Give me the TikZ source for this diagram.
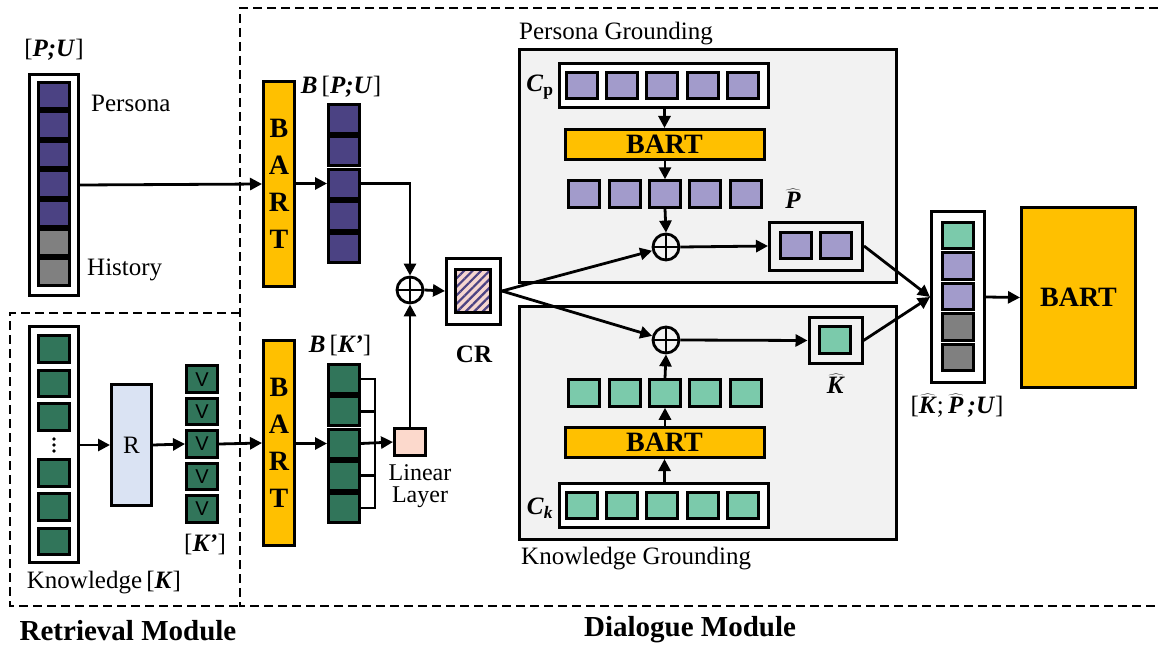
\documentclass[tikz,border=0pt]{standalone}
\usepackage{fontspec}
\setmainfont{Liberation Serif}
\newfontfamily\sansfont{Liberation Sans}
\usetikzlibrary{arrows.meta,patterns.meta}

\definecolor{bartgold}{HTML}{FFC000}
\definecolor{roxo}{HTML}{4B4283}
\definecolor{roxoclaro}{HTML}{A29BCB}
\definecolor{verde}{HTML}{31755A}
\definecolor{verdeclaro}{HTML}{7BCAAB}
\definecolor{cinza}{HTML}{808080}
\definecolor{fundo}{HTML}{F2F2F2}
\definecolor{azulr}{HTML}{DAE3F3}
\definecolor{salmao}{HTML}{FCD9CC}
\definecolor{rosa}{HTML}{F6D6D0}

\begin{document}
\begin{tikzpicture}[x=1pt, y=-1pt,
        every node/.style={font=\fontsize{25}{28}\selectfont, inner sep=0pt},
        cell/.style={draw, line width=3pt, minimum width=31pt, minimum height=26.5pt},
        holder/.style={draw, line width=3pt, fill=white},
        bartbox/.style={draw, line width=3pt, fill=bartgold, font=\fontsize{28}{37}\selectfont\bfseries, align=center},
        sumnode/.style={draw, circle, line width=2.8pt, minimum size=26pt,
            path picture={\draw[line width=2.8pt] (path picture bounding box.north) -- (path picture bounding box.south)
                (path picture bounding box.west) -- (path picture bounding box.east);}},
        arrowline/.style={line width=2.8pt, -{Triangle[length=12pt,width=12pt]}},
        module/.style={line width=2pt, dash pattern=on 9pt off 5pt}]
        \useasboundingbox (0,0) rectangle (1158,650);

        %modulos
        \draw[module] (240,313) -- (10,313) -- (10,606) -- (240,606);
        \draw[module] (1158,8) -- (240,8) -- (240,606) -- (1158,606);
        \node[font=\fontsize{29}{32}\selectfont\bfseries] (retlabel) at (128,631) {Retrieval Module};
        \node[font=\fontsize{29}{32}\selectfont\bfseries] (dialabel) at (690,630) {Dialogue Module};

        %entrada [P;U]
        \node[holder, minimum width=49pt, minimum height=221pt] (pubox) at (54,185) {};
        \node[cell, fill=roxo] (pu1) at (54,95.7) {};
        \node[cell, fill=roxo] (pu2) at (54,125.1) {};
        \node[cell, fill=roxo] (pu3) at (54,154.5) {};
        \node[cell, fill=roxo] (pu4) at (54,183.9) {};
        \node[cell, fill=roxo] (pu5) at (54,213.3) {};
        \node[cell, fill=cinza] (pu6) at (54,242.7) {};
        \node[cell, fill=cinza] (pu7) at (54,272.1) {};
        \node (pulabel) at (54,50) {[\textbf{\textit{P;U}}]};
        \node[anchor=west] (persona) at (91,103) {Persona};
        \node[anchor=west] (history) at (87,270) {History};

        %entrada conhecimento
        \node[holder, minimum width=49pt, minimum height=236pt] (kbox) at (54,444.5) {};
        \node[cell, fill=verde] (k1) at (54,349) {};
        \node[cell, fill=verde] (k2) at (54,383.5) {};
        \node[cell, fill=verde] (k3) at (54,417) {};
        \fill (54,439) circle (1.8) (54,445) circle (1.8) (54,451) circle (1.8);
        \node[cell, fill=verde] (k4) at (54,473) {};
        \node[cell, fill=verde] (k5) at (54,507) {};
        \node[cell, fill=verde] (k6) at (54,541.5) {};
        \node (klabel) at (104,583) {Knowledge\,[\textbf{\textit{K}}]};

        \node[draw, line width=3pt, fill=azulr, minimum width=40pt, minimum height=121pt] (ret) at (131.5,445) {R};

        \node[cell, fill=verde, font=\sansfont\fontsize{20}{20}\selectfont] (kp1) at (202,379.2) {V};
        \node[cell, fill=verde, font=\sansfont\fontsize{20}{20}\selectfont] (kp2) at (202,411.6) {V};
        \node[cell, fill=verde, font=\sansfont\fontsize{20}{20}\selectfont] (kp3) at (202,444) {V};
        \node[cell, fill=verde, font=\sansfont\fontsize{20}{20}\selectfont] (kp4) at (202,476.4) {V};
        \node[cell, fill=verde, font=\sansfont\fontsize{20}{20}\selectfont] (kp5) at (202,508.8) {V};
        \node (kplabel) at (205,544) {[\textbf{\textit{K'}}]};

        \draw[arrowline] (kbox.east |- ret.west) -- (ret.west);
        \draw[arrowline] (ret.east) -- (kp3.west);

        %encoders BART
        \node[bartbox, minimum width=31pt, minimum height=205pt] (bart1) at (279,184) {B\\A\\R\\T};
        \node[bartbox, minimum width=31pt, minimum height=205pt] (bart2) at (279,443) {B\\A\\R\\T};
        \draw[arrowline] (pubox.east) -- (bart1.west);
        \draw[arrowline] (kp3.east) -- (bart2.west);

        \node[cell, fill=roxo, minimum height=29pt] (bp1) at (344,119.1) {};
        \node[cell, fill=roxo, minimum height=29pt] (bp2) at (344,151.3) {};
        \node[cell, fill=roxo, minimum height=29pt] (bp3) at (344,183.5) {};
        \node[cell, fill=roxo, minimum height=29pt] (bp4) at (344,215.7) {};
        \node[cell, fill=roxo, minimum height=29pt] (bp5) at (344,247.9) {};
        \node (bplabel) at (341,87) {\textbf{\textit{B}}\,[\textbf{\textit{P;U}}]};

        \node[cell, fill=verde, minimum height=29pt] (bk1) at (344,379.1) {};
        \node[cell, fill=verde, minimum height=29pt] (bk2) at (344,411.3) {};
        \node[cell, fill=verde, minimum height=29pt] (bk3) at (344,443.5) {};
        \node[cell, fill=verde, minimum height=29pt] (bk4) at (344,475.7) {};
        \node[cell, fill=verde, minimum height=29pt] (bk5) at (344,507.9) {};
        \node (bklabel) at (340,345) {\textbf{\textit{B}}\,[\textbf{\textit{K'}}]};

        \draw[arrowline] (bart1.east |- bp3.west) -- (bp3.west);
        \draw[arrowline] (bart2.east |- bk3.west) -- (bk3.west);

        %camada linear
        \draw[line width=2.5pt] (bk1.east) -- ++(14,0) |- (bk5.east);
        \draw[line width=2.5pt] (bk2.east) -- ++(14,0);
        \draw[line width=2.5pt] (bk4.east) -- ++(14,0);
        \node[draw, line width=3pt, fill=salmao, minimum width=31pt, minimum height=27pt] (lin) at (410,442) {};
        \node[align=center, font=\fontsize{24}{22}\selectfont] (linlabel) at (420,486) {Linear\\Layer};
        \draw[arrowline] (bk3.east) -- (lin.west);

        %soma e CR
        \node[sumnode] (plus1) at (410,290) {};
        \draw[arrowline] (bp3.east) -| (plus1.north);
        \draw[arrowline] (lin.north) -- (plus1.south);
        \node[holder, minimum width=54pt, minimum height=66pt] (crout) at (473.5,291) {};
        \node[draw, line width=3pt, minimum width=35pt, minimum height=43pt, preaction={fill=rosa},
            pattern={Lines[angle=45,distance=6pt,line width=2.2pt]}, pattern color=roxo] (crin) at (473,290.5) {};
        \node[font=\fontsize{25}{28}\selectfont\bfseries] (crlabel) at (474,354) {CR};
        \draw[arrowline] (plus1.east) -- (crout.west);

        %persona grounding
        \node[draw, line width=3pt, fill=fundo, minimum width=377pt, minimum height=233pt] (pg) at (708,166) {};
        \node[anchor=south west] (pglabel) at (519,45) {Persona Grounding};
        \node[holder, minimum width=209pt, minimum height=44pt] (cp) at (664,85.5) {};
        \node[cell, fill=roxoclaro] (cp1) at (582,85.5) {};
        \node[cell, fill=roxoclaro] (cp2) at (622,85.5) {};
        \node[cell, fill=roxoclaro] (cp3) at (662,85.5) {};
        \node[cell, fill=roxoclaro] (cp4) at (703,85.5) {};
        \node[cell, fill=roxoclaro] (cp5) at (743,85.5) {};
        \node (cplabel) at (540,87) {\textbf{\textit{C}}\textsubscript{\textbf{p}}};
        \node[bartbox, minimum width=199pt, minimum height=30pt] (bartp) at (664.5,144.5) {BART};
        \node[cell, fill=roxoclaro] (op1) at (584,194) {};
        \node[cell, fill=roxoclaro] (op2) at (625,194) {};
        \node[cell, fill=roxoclaro] (op3) at (665,194) {};
        \node[cell, fill=roxoclaro] (op4) at (705,194) {};
        \node[cell, fill=roxoclaro] (op5) at (746,194) {};
        \node[sumnode] (plusp) at (666,247) {};
        \node[draw, line width=3pt, fill=fundo, minimum width=93pt, minimum height=48pt] (phat) at (816,246) {};
        \node[cell, fill=roxoclaro] (ph1) at (796,245.5) {};
        \node[cell, fill=roxoclaro] (ph2) at (836,245.5) {};
        \node (phlabel) at (793,199) {$\widehat{\textbf{\textit{P}}}$};
        \draw[arrowline] (cp.south -| bartp.north) -- (bartp.north);
        \draw[arrowline] (bartp.south -| op3.north) -- (op3.north);
        \draw[arrowline] (op3.south) -- (plusp.north);
        \draw[arrowline] (plusp.east) -- (phat.west);

        %knowledge grounding
        \node[draw, line width=3pt, fill=fundo, minimum width=377pt, minimum height=233pt] (kg) at (708,423) {};
        \node[anchor=west] (kglabel) at (521,559) {Knowledge Grounding};
        \node[sumnode] (plusk) at (666,340) {};
        \node[cell, fill=verdeclaro] (ok1) at (584,393) {};
        \node[cell, fill=verdeclaro] (ok2) at (625,393) {};
        \node[cell, fill=verdeclaro] (ok3) at (665,393) {};
        \node[cell, fill=verdeclaro] (ok4) at (705,393) {};
        \node[cell, fill=verdeclaro] (ok5) at (745.5,393) {};
        \node[bartbox, minimum width=199pt, minimum height=30pt] (bartk) at (664.5,442.5) {BART};
        \node[holder, minimum width=209pt, minimum height=44pt] (ck) at (664,505.5) {};
        \node[cell, fill=verdeclaro] (ck1) at (582,505.5) {};
        \node[cell, fill=verdeclaro] (ck2) at (622,505.5) {};
        \node[cell, fill=verdeclaro] (ck3) at (662,505.5) {};
        \node[cell, fill=verdeclaro] (ck4) at (703,505.5) {};
        \node[cell, fill=verdeclaro] (ck5) at (743,505.5) {};
        \node (cklabel) at (540,508) {\textbf{\textit{C}}\textsubscript{\textbf{\textit{k}}}};
        \node[draw, line width=3pt, fill=fundo, minimum width=53pt, minimum height=46pt] (khat) at (835.5,340.5) {};
        \node[cell, fill=verdeclaro] (kh1) at (835,340) {};
        \node (khlabel) at (836,384) {$\widehat{\textbf{\textit{K}}}$};
        \draw[arrowline] (ck.north -| bartk.south) -- (bartk.south);
        \draw[arrowline] (bartk.north -| ok3.south) -- (ok3.south);
        \draw[arrowline] (ok3.north) -- (plusk.south);
        \draw[arrowline] (plusk.east) -- (khat.west);

        %CR para as duas somas
        \draw[arrowline] (crout.east) -- (plusp);
        \draw[arrowline] (crout.east) -- (plusk);

        %saida
        \node[holder, minimum width=53pt, minimum height=171pt] (fin) at (958,297) {};
        \node[cell, fill=verdeclaro] (f1) at (957.5,235.3) {};
        \node[cell, fill=roxoclaro] (f2) at (957.5,265.9) {};
        \node[cell, fill=roxoclaro] (f3) at (957.5,296.5) {};
        \node[cell, fill=cinza] (f4) at (957.5,327.1) {};
        \node[cell, fill=cinza] (f5) at (957.5,357.7) {};
        \node (finlabel) at (957,406) {[$\widehat{\textbf{\textit{K}}}$;\,$\widehat{\textbf{\textit{P}}}$\,\textbf{\textit{;U}}]};
        \node[bartbox, minimum width=114pt, minimum height=180pt] (bartf) at (1078.5,297.5) {BART};
        \draw[arrowline] (phat.east) -- (fin.west);
        \draw[arrowline] (khat.east) -- (fin.west);
        \draw[arrowline] (fin.east) -- (bartf.west);

    \end{tikzpicture}
\end{document}
